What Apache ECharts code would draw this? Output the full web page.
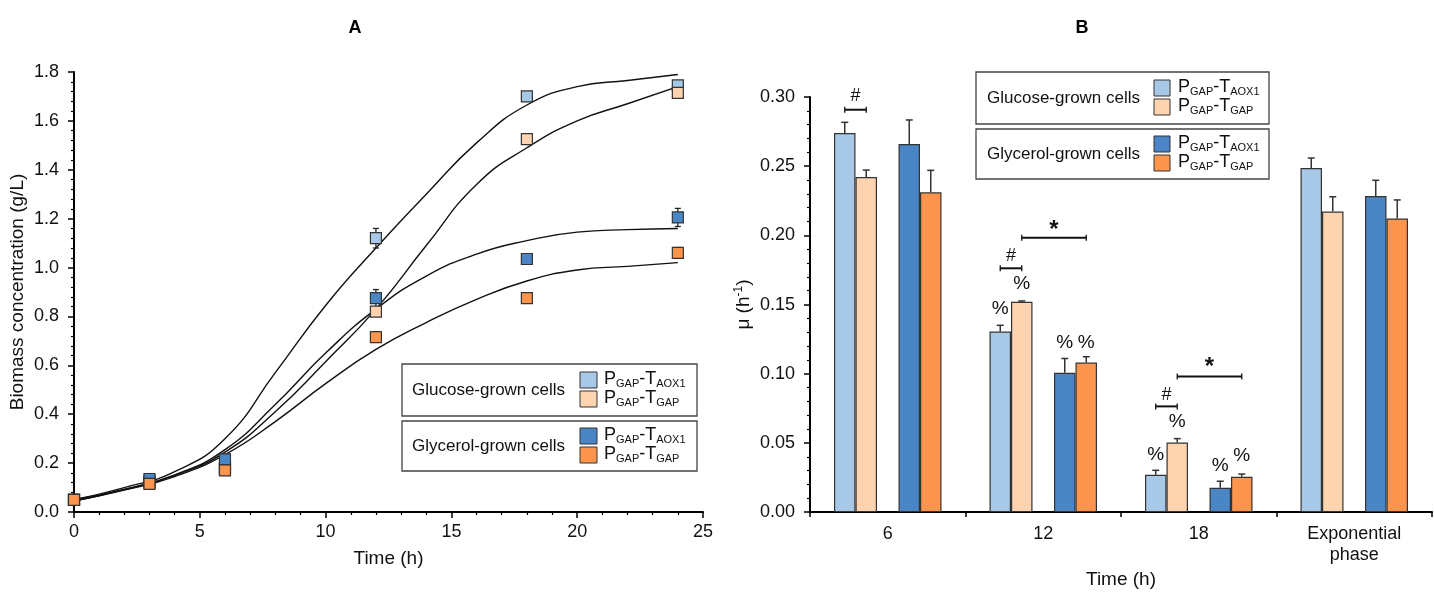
<!DOCTYPE html>
<html><head><meta charset="utf-8">
<script src="https://cdn.jsdelivr.net/npm/echarts@6/dist/echarts.min.js"></script>
<style>html,body{margin:0;padding:0;background:#fff}#c{width:1434px;height:594px}</style>
</head><body><div id="c"></div>
<script>
// ---------- Panel A: biomass ----------
const timesA = [0, 3, 6, 12, 18, 24];
const gluAOX1 = [0.05, 0.125, 0.18, 1.12, 1.70, 1.745];
const gluGAP  = [0.05, 0.12, 0.175, 0.82, 1.525, 1.715];
const glyAOX1 = [0.05, 0.135, 0.215, 0.875, 1.035, 1.205];
const glyGAP  = [0.05, 0.115, 0.17, 0.715, 0.875, 1.06];
const gluAOX1Err = [0.005, 0.005, 0.01, 0.04, 0.015, 0.015];
const gluGAPErr  = [0.005, 0.005, 0.01, 0.015, 0.015, 0.01];
const glyAOX1Err = [0.005, 0.005, 0.01, 0.035, 0.01, 0.037];
const glyGAPErr  = [0.005, 0.005, 0.01, 0.01, 0.01, 0.022];

// fitted growth curves
const fitTimes = [0, 2, 4, 6, 8, 10, 12, 14, 16, 18, 20, 22, 24];
const fitGluAOX1 = [0.05, 0.10, 0.165, 0.30, 0.57, 0.845, 1.08, 1.30, 1.51, 1.665, 1.74, 1.765, 1.79];
const fitGluGAP  = [0.05, 0.092, 0.15, 0.245, 0.41, 0.615, 0.83, 1.09, 1.34, 1.49, 1.60, 1.67, 1.74];
const fitGlyAOX1 = [0.045, 0.092, 0.152, 0.255, 0.44, 0.65, 0.83, 0.965, 1.055, 1.11, 1.145, 1.155, 1.16];
const fitGlyGAP  = [0.045, 0.09, 0.145, 0.235, 0.37, 0.525, 0.665, 0.775, 0.87, 0.945, 0.99, 1.005, 1.02];

// ---------- Panel B: growth rate ----------
const catsB = ['6', '12', '18', 'Exponential\nphase'];
const muGluAOX1 = [0.274, 0.1305, 0.027, 0.2487];
const muGluGAP  = [0.2422, 0.152, 0.0503, 0.2172];
const muGlyAOX1 = [0.266, 0.1007, 0.0176, 0.2284];
const muGlyGAP  = [0.2311, 0.1081, 0.0255, 0.2122];
const muGluAOX1Err = [0.0077, 0.0045, 0.0032, 0.0072];
const muGluGAPErr  = [0.005, 0.0006, 0.0028, 0.0107];
const muGlyAOX1Err = [0.0174, 0.0103, 0.0047, 0.0114];
const muGlyGAPErr  = [0.0159, 0.0042, 0.002, 0.0134];

// annotations: [category, slot, y]
const pctMarks = [[1,0,0.1467],[1,1,0.1647],[1,3,0.1226],[1,4,0.1226],
                  [2,0,0.0416],[2,1,0.0656],[2,3,0.0337],[2,4,0.0409]];
// brackets: [category, slotFrom, slotTo, y, textY, symbol]
const sigBrackets = [[0,0,1,0.2908,0.301,'#'],[1,0,1,0.1762,0.185,'#'],[1,1,4,0.1983,0.2063,'*'],
                     [2,0,1,0.0764,0.0849,'#'],[2,1,4,0.098,0.1072,'*']];

const C_LB = '#a7c8e6', C_LO = '#fed4b0', C_B = '#4a86c6', C_O = '#fe954c';
const FONT = 'Liberation Sans, Arial, sans-serif';
const BW = 21.5;

const chart = echarts.init(document.getElementById('c'));

function pts(xs, ys){ return xs.map((x,i)=>[x, ys[i]]); }
function errPts(xs, ys, es){ return xs.map((x,i)=>[x, ys[i], es[i]]); }

function renderErrA(params, api){
  const x = api.value(0), v = api.value(1), e = api.value(2);
  const hi = api.coord([x, v + e]), lo = api.coord([x, v - e]);
  const c = 3, st = {stroke:'#222', lineWidth:1.3};
  return {type:'group', children:[
    {type:'line', shape:{x1:hi[0],y1:hi[1],x2:lo[0],y2:lo[1]}, style:st},
    {type:'line', shape:{x1:hi[0]-c,y1:hi[1],x2:hi[0]+c,y2:hi[1]}, style:st},
    {type:'line', shape:{x1:lo[0]-c,y1:lo[1],x2:lo[0]+c,y2:lo[1]}, style:st}
  ]};
}
function errB(vals, errs, slot){
  return vals.map((v,i)=>[i, v, errs[i], slot]);
}
function renderErrB(params, api){
  const cat = api.value(0), v = api.value(1), e = api.value(2), slot = api.value(3);
  const p = api.coord([cat, v]), q = api.coord([cat, v + e]);
  const x = p[0] + (slot - 2) * BW;
  const c = 3.5, st = {stroke:'#333', lineWidth:1.5};
  return {type:'group', children:[
    {type:'line', shape:{x1:x,y1:p[1],x2:x,y2:q[1]}, style:st},
    {type:'line', shape:{x1:x-c,y1:q[1],x2:x+c,y2:q[1]}, style:st}
  ]};
}
function renderPct(params, api){
  const d = pctMarks[params.dataIndex];
  const p = api.coord([d[0], d[2]]);
  return {type:'text', style:{text:'%', x:p[0] + (d[1]-2)*BW, y:p[1], align:'center', verticalAlign:'middle',
    fontSize:19, fontFamily:FONT, fill:'#111'}};
}
function renderBracket(params, api){
  const d = sigBrackets[params.dataIndex];
  const p = api.coord([d[0], d[3]]), t = api.coord([d[0], d[4]]);
  const x1 = p[0] + (d[1]-2)*BW, x2 = p[0] + (d[2]-2)*BW;
  const st = {stroke:'#111', lineWidth:2};
  const star = d[5] === '*';
  return {type:'group', children:[
    {type:'line', shape:{x1:x1,y1:p[1],x2:x2,y2:p[1]}, style:st},
    {type:'line', shape:{x1:x1,y1:p[1]-3,x2:x1,y2:p[1]+3}, style:{stroke:'#111', lineWidth:1.3}},
    {type:'line', shape:{x1:x2,y1:p[1]-3,x2:x2,y2:p[1]+3}, style:{stroke:'#111', lineWidth:1.3}},
    {type:'text', style:{text:d[5], x:(x1+x2)/2, y: star ? t[1]+4 : t[1], align:'center', verticalAlign:'middle',
      fontSize: star ? 24 : 18, fontWeight: star ? 'bold' : 'normal', fontFamily:FONT, fill:'#111'}}
  ]};
}

const axisLine = {show:true, lineStyle:{color:'#000', width:2}};
const axisTick = {show:true, inside:false, length:6, lineStyle:{color:'#000', width:1.5}};
const minorTick = {show:true, splitNumber:5, length:3, lineStyle:{color:'#000', width:1.2}};
const lbl = {color:'#111', fontSize:18, fontFamily:FONT};
const nameStyle = {color:'#111', fontSize:19, fontFamily:FONT};

function legendBox(x, y, w, h, title, c1, c2, opts){
  const els = [];
  els.push({type:'rect', shape:{x:x, y:y, width:w, height:h}, style:{fill:'#fff', stroke:'#444', lineWidth:1.3}, z:100});
  els.push({type:'text', x:opts.tx, y:y + h/2, style:{text:title, fontSize:17, fontFamily:FONT, fill:'#111', verticalAlign:'middle'}, z:101});
  [[c1, opts.s1, 'P{s|GAP}-T{s|AOX1}'], [c2, opts.s2, 'P{s|GAP}-T{s|GAP}']].forEach(function(a){
    els.push({type:'rect', shape:{x:opts.sx, y:y + a[1], width:opts.sw, height:opts.sh}, style:{fill:a[0], stroke:'#333', lineWidth:1}, z:101});
    els.push({type:'text', x:opts.lx, y:y + a[1] + opts.sh/2 - 1, style:{text:a[2], fontSize:18, fontFamily:FONT, fill:'#111',
      verticalAlign:'middle', lineHeight:20, rich:{s:{fontSize:11, fontFamily:FONT, lineHeight:11, verticalAlign:'bottom', fill:'#111'}}}, z:101});
  });
  return els;
}

const graphics = [
  {type:'text', x:355, y:28, style:{text:'A', fontSize:18, fontWeight:'bold', fontFamily:FONT, fill:'#000', align:'center', verticalAlign:'middle'}},
  {type:'text', x:1082, y:28, style:{text:'B', fontSize:18, fontWeight:'bold', fontFamily:FONT, fill:'#000', align:'center', verticalAlign:'middle'}}
].concat(
  legendBox(402, 364, 295, 52, 'Glucose-grown cells', C_LB, C_LO, {tx:412, sx:580, sw:17, sh:16, s1:8, s2:27, lx:604}),
  legendBox(402, 421, 295, 50, 'Glycerol-grown cells', C_B, C_O, {tx:412, sx:580, sw:17, sh:16, s1:7, s2:26, lx:604}),
  legendBox(976, 72, 293, 52, 'Glucose-grown cells', C_LB, C_LO, {tx:987, sx:1154, sw:16, sh:16, s1:8, s2:27, lx:1178}),
  legendBox(976, 129, 293, 50, 'Glycerol-grown cells', C_B, C_O, {tx:987, sx:1154, sw:16, sh:16, s1:7, s2:26, lx:1178})
);

function curve(data){
  return {type:'line', xAxisIndex:0, yAxisIndex:0, data:data, smooth:0.5, showSymbol:false, symbol:'none',
    lineStyle:{color:'#111', width:1.4}, z:1};
}
function pointSeries(data, color){
  return {type:'scatter', xAxisIndex:0, yAxisIndex:0, data:data, symbol:'rect', symbolSize:11,
    itemStyle:{color:color, borderColor:'#333', borderWidth:1.2, opacity:1}, z:3};
}
function barSeries(data, color){
  return {type:'bar', xAxisIndex:1, yAxisIndex:1, data:data, barWidth:BW, barGap:'0%',
    itemStyle:{color:color, borderColor:'#333', borderWidth:1.2}};
}

const option = {
  animation:false,
  backgroundColor:'#fff',
  textStyle:{fontFamily:FONT},
  grid:[
    {left:74, top:72, width:629, height:440, containLabel:false},
    {left:810, top:97, width:622, height:416, containLabel:false}
  ],
  xAxis:[
    {type:'value', gridIndex:0, min:0, max:25, interval:5, axisLine:axisLine, axisTick:axisTick, minorTick:minorTick,
     splitLine:{show:false}, axisLabel:Object.assign({margin:11}, lbl),
     name:'Time (h)', nameLocation:'middle', nameGap:37, nameTextStyle:nameStyle},
    {type:'category', gridIndex:1, data:catsB, boundaryGap:true, axisLine:axisLine,
     axisTick:{show:true, inside:false, length:5, lineStyle:{color:'#000', width:1.5}},
     axisLabel:Object.assign({margin:11, lineHeight:21, interval:0}, lbl),
     name:'Time (h)', nameLocation:'middle', nameGap:56, nameTextStyle:nameStyle}
  ],
  yAxis:[
    {type:'value', gridIndex:0, min:0, max:1.8, interval:0.2, axisLine:axisLine, axisTick:axisTick, minorTick:minorTick,
     splitLine:{show:false}, axisLabel:Object.assign({margin:15, formatter:function(v){return v.toFixed(1);}}, lbl),
     name:'Biomass concentration (g/L)', nameLocation:'middle', nameGap:47, nameTextStyle:nameStyle},
    {type:'value', gridIndex:1, min:0, max:0.3, interval:0.05, axisLine:axisLine, axisTick:axisTick, minorTick:minorTick,
     splitLine:{show:false}, axisLabel:Object.assign({margin:15, formatter:function(v){return v.toFixed(2);}}, lbl),
     name:'μ (h{sup|-1})', nameLocation:'middle', nameGap:55,
     nameTextStyle:{color:'#111', fontSize:19, fontFamily:FONT, lineHeight:22, rich:{sup:{fontSize:12, lineHeight:12, verticalAlign:'top', fontFamily:FONT, color:'#111'}}}}
  ],
  series:[
    curve(pts(fitTimes, fitGluAOX1)),
    curve(pts(fitTimes, fitGluGAP)),
    curve(pts(fitTimes, fitGlyAOX1)),
    curve(pts(fitTimes, fitGlyGAP)),
    {type:'custom', xAxisIndex:0, yAxisIndex:0, data:errPts(timesA, gluAOX1, gluAOX1Err), renderItem:renderErrA, z:2},
    {type:'custom', xAxisIndex:0, yAxisIndex:0, data:errPts(timesA, gluGAP, gluGAPErr), renderItem:renderErrA, z:2},
    {type:'custom', xAxisIndex:0, yAxisIndex:0, data:errPts(timesA, glyAOX1, glyAOX1Err), renderItem:renderErrA, z:2},
    {type:'custom', xAxisIndex:0, yAxisIndex:0, data:errPts(timesA, glyGAP, glyGAPErr), renderItem:renderErrA, z:2},
    pointSeries(pts(timesA, gluAOX1), C_LB),
    pointSeries(pts(timesA, gluGAP), C_LO),
    pointSeries(pts(timesA, glyAOX1), C_B),
    pointSeries(pts(timesA, glyGAP), C_O),
    barSeries(muGluAOX1, C_LB),
    barSeries(muGluGAP, C_LO),
    {type:'bar', xAxisIndex:1, yAxisIndex:1, data:catsB.map(function(){return '-';}), barWidth:BW, barGap:'0%', itemStyle:{color:'transparent'}},
    barSeries(muGlyAOX1, C_B),
    barSeries(muGlyGAP, C_O),
    {type:'custom', xAxisIndex:1, yAxisIndex:1, data:errB(muGluAOX1, muGluAOX1Err, 0), renderItem:renderErrB, z:4},
    {type:'custom', xAxisIndex:1, yAxisIndex:1, data:errB(muGluGAP, muGluGAPErr, 1), renderItem:renderErrB, z:4},
    {type:'custom', xAxisIndex:1, yAxisIndex:1, data:errB(muGlyAOX1, muGlyAOX1Err, 3), renderItem:renderErrB, z:4},
    {type:'custom', xAxisIndex:1, yAxisIndex:1, data:errB(muGlyGAP, muGlyGAPErr, 4), renderItem:renderErrB, z:4},
    {type:'custom', xAxisIndex:1, yAxisIndex:1, data:pctMarks.map(function(d){return [d[0], d[2]];}), renderItem:renderPct, z:5},
    {type:'custom', xAxisIndex:1, yAxisIndex:1, data:sigBrackets.map(function(d){return [d[0], d[3]];}), renderItem:renderBracket, z:5}
  ],
  graphic:graphics
};
chart.setOption(option);
</script>
</body></html>
